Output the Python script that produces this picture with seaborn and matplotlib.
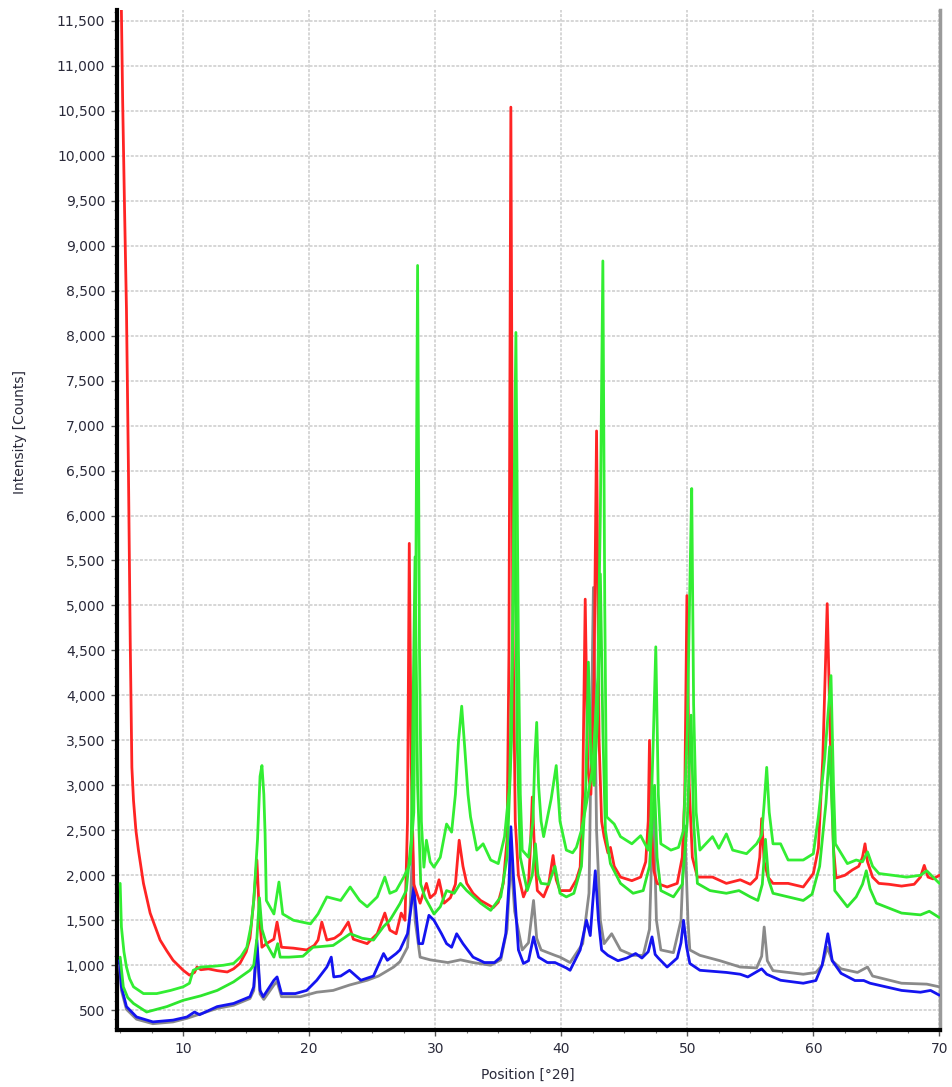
import numpy as np
import pandas as pd
import matplotlib
matplotlib.use("Agg")
import matplotlib.pyplot as plt
import seaborn as sns
from matplotlib.ticker import MultipleLocator, FuncFormatter

# XRD patterns: (2theta [deg], intensity [counts]) sample points per scan
RED = [(5.00, 12500), (5.10, 11600), (5.20, 10600), (5.35, 9400), (5.50, 8300), (5.65, 6600),
       (5.80, 4600), (5.93, 3200), (6.06, 2830), (6.25, 2500), (6.45, 2280), (6.85, 1910),
       (7.38, 1580), (8.17, 1280), (8.7, 1160), (9.2, 1055), (10.0, 944), (10.5, 890),
       (10.9, 920), (11.1, 980), (11.4, 950), (12.0, 960), (12.7, 940), (13.5, 925),
       (14.0, 960), (14.5, 1020), (15.0, 1150), (15.3, 1300), (15.6, 1720), (15.85, 2170),
       (16.05, 1540), (16.25, 1200), (16.6, 1240), (17.2, 1290), (17.45, 1480), (17.8, 1200),
       (18.75, 1190), (19.8, 1170), (20.4, 1220), (20.7, 1280), (21.0, 1480), (21.4, 1280),
       (22.0, 1300), (22.5, 1350), (23.1, 1480), (23.5, 1290), (24.6, 1240), (25.4, 1350),
       (26.0, 1580), (26.4, 1390), (26.9, 1350), (27.3, 1580), (27.6, 1500), (27.8, 2600),
       (27.94, 5690), (28.1, 3200), (28.3, 1900), (28.8, 1690), (29.3, 1910), (29.6, 1750),
       (30.0, 1800), (30.3, 1950), (30.7, 1690), (31.2, 1750), (31.6, 1900), (31.9, 2390),
       (32.2, 2100), (32.5, 1910), (33.0, 1800), (33.6, 1720), (34.6, 1640), (35.0, 1700),
       (35.4, 1910), (35.7, 2400), (35.85, 4500), (36.0, 10540), (36.15, 5000), (36.35, 2600),
       (36.6, 2000), (37.0, 1760), (37.4, 1900), (37.55, 2300), (37.7, 2870), (37.9, 2200),
       (38.1, 1830), (38.6, 1760), (39.0, 1900), (39.35, 2220), (39.6, 1950), (39.9, 1830),
       (40.7, 1830), (41.2, 1950), (41.5, 2090), (41.7, 2900), (41.9, 5070), (42.1, 3200),
       (42.35, 2900), (42.6, 4200), (42.8, 6940), (43.0, 3500), (43.2, 2600), (43.4, 2430),
       (43.7, 2250), (43.9, 2310), (44.2, 2100), (44.7, 1980), (45.6, 1940), (46.3, 1980),
       (46.7, 2150), (46.9, 2600), (47.0, 3500), (47.15, 2500), (47.35, 2050), (47.6, 1910),
       (48.4, 1870), (49.2, 1910), (49.6, 2200), (49.8, 2900), (49.97, 5110), (50.15, 3000),
       (50.4, 2200), (50.8, 1980), (52.0, 1980), (53.1, 1910), (54.2, 1950), (55.0, 1900),
       (55.5, 1970), (55.75, 2200), (55.9, 2630), (56.1, 2150), (56.4, 1980), (56.8, 1910),
       (58.0, 1910), (59.2, 1870), (60.0, 2020), (60.4, 2300), (60.75, 3300), (61.1, 5020),
       (61.35, 3500), (61.6, 2300), (61.8, 1970), (62.5, 2000), (63.1, 2060), (63.6, 2100),
       (63.9, 2200), (64.1, 2350), (64.3, 2150), (64.7, 1980), (65.2, 1910), (66.0, 1900),
       (67.0, 1880), (68.0, 1900), (68.5, 1980), (68.8, 2110), (69.1, 1980), (69.5, 1960),
       (70.0, 2000)]

GREEN_A = [(5.00, 1910), (5.10, 1425), (5.30, 1150), (5.50, 980), (5.75, 850), (6.06, 760),
           (6.85, 685), (7.9, 685), (9.0, 720), (10.0, 760), (10.5, 800), (10.8, 944),
           (11.4, 980), (12.5, 990), (13.2, 1000), (14.0, 1020), (14.6, 1100), (15.05, 1200),
           (15.4, 1450), (15.6, 1720), (15.9, 2400), (16.1, 3100), (16.25, 3220), (16.4, 2900),
           (16.5, 2460), (16.6, 1720), (17.2, 1570), (17.6, 1925), (17.9, 1570), (18.75, 1500),
           (20.1, 1460), (20.7, 1570), (21.4, 1760), (22.5, 1720), (23.25, 1870), (24.0, 1720),
           (24.6, 1650), (25.4, 1760), (26.0, 1980), (26.4, 1800), (26.9, 1830), (27.5, 1980),
           (28.0, 2130), (28.3, 2700), (28.45, 5000), (28.6, 8780), (28.75, 4500), (28.9, 2600),
           (29.1, 2090), (29.3, 2390), (29.6, 2150), (29.9, 2090), (30.4, 2200), (30.9, 2570),
           (31.3, 2480), (31.6, 2900), (31.85, 3500), (32.1, 3880), (32.35, 3400), (32.6, 2900),
           (32.8, 2650), (33.3, 2280), (33.8, 2350), (34.4, 2170), (35.0, 2130), (35.5, 2430),
           (35.9, 3000), (36.15, 4800), (36.4, 8035), (36.6, 4500), (36.75, 2900), (36.9, 2280),
           (37.4, 2200), (37.75, 2600), (37.9, 3300), (38.05, 3700), (38.2, 3000), (38.4, 2600),
           (38.6, 2430), (39.2, 2850), (39.6, 3220), (39.9, 2600), (40.4, 2280), (40.9, 2250),
           (41.2, 2310), (41.6, 2500), (42.0, 2800), (42.5, 3200), (42.9, 4200), (43.1, 6000),
           (43.3, 8830), (43.45, 5000), (43.6, 2650), (44.2, 2570), (44.7, 2430), (45.6, 2350),
           (46.3, 2440), (46.9, 2280), (47.1, 2600), (47.3, 3500), (47.5, 4540), (47.7, 2900),
           (47.9, 2350), (48.7, 2280), (49.3, 2310), (49.7, 2500), (50.0, 3600), (50.2, 5200),
           (50.35, 6300), (50.5, 3900), (50.7, 2700), (51.0, 2280), (52.0, 2430), (52.5, 2300),
           (53.1, 2460), (53.6, 2280), (54.7, 2240), (55.5, 2350), (55.9, 2450), (56.1, 2800),
           (56.3, 3200), (56.5, 2700), (56.8, 2350), (57.4, 2350), (58.0, 2170), (59.2, 2170),
           (60.0, 2240), (60.4, 2650), (60.9, 3300), (61.4, 4220), (61.6, 3000), (61.75, 2350),
           (62.7, 2130), (63.4, 2170), (63.9, 2150), (64.3, 2260), (64.7, 2100), (65.2, 2020),
           (67.4, 1980), (68.5, 2000), (69.0, 2050), (69.5, 1980), (70.0, 1910)]

GREEN_B = [(5.00, 1090), (5.25, 760), (5.6, 640), (6.06, 575), (7.1, 480), (8.7, 540),
           (10.0, 610), (11.4, 660), (12.7, 720), (14.0, 815), (15.3, 944), (15.6, 1000),
           (15.85, 1300), (16.05, 1750), (16.25, 1400), (16.6, 1240), (17.2, 1090), (17.5, 1240),
           (17.7, 1090), (18.4, 1090), (19.5, 1100), (20.3, 1200), (21.9, 1220), (23.25, 1350),
           (24.2, 1300), (25.1, 1280), (25.9, 1430), (26.4, 1500), (27.2, 1685), (27.7, 1830),
           (28.1, 2400), (28.4, 5540), (28.6, 3000), (28.85, 1900), (29.2, 1750), (29.9, 1570),
           (30.4, 1650), (30.9, 1830), (31.5, 1800), (32.0, 1910), (32.5, 1830), (33.6, 1690),
           (34.4, 1610), (35.2, 1760), (35.7, 2200), (36.05, 3500), (36.3, 6575), (36.5, 3500),
           (36.75, 2200), (37.3, 1830), (37.7, 2000), (37.95, 2350), (38.15, 2000), (38.4, 1910),
           (39.0, 1900), (39.5, 2100), (39.9, 1800), (40.4, 1760), (41.0, 1800), (41.6, 2100),
           (41.95, 3000), (42.15, 4370), (42.35, 3300), (42.6, 3000), (42.9, 3800), (43.1, 5350),
           (43.3, 3600), (43.5, 2500), (43.9, 2130), (44.7, 1910), (45.7, 1800), (46.5, 1830),
           (47.0, 2100), (47.4, 3000), (47.6, 2200), (47.9, 1830), (48.9, 1760), (49.6, 1900),
           (50.0, 2600), (50.3, 3780), (50.5, 2600), (50.8, 1910), (51.8, 1830), (53.1, 1800),
           (54.1, 1830), (55.0, 1760), (55.6, 1720), (55.95, 1900), (56.2, 2400), (56.45, 1950),
           (56.8, 1800), (58.0, 1760), (59.2, 1720), (59.9, 1790), (60.5, 2100), (61.0, 2800),
           (61.3, 3430), (61.55, 2500), (61.7, 1830), (62.7, 1650), (63.4, 1760), (63.9, 1900),
           (64.2, 2050), (64.5, 1850), (65.0, 1690), (67.0, 1580), (68.5, 1560), (69.2, 1600),
           (70.0, 1530)]

BLUE = [(4.95, 1055), (5.1, 760), (5.5, 540), (6.3, 425), (7.6, 370), (9.2, 390), (10.3, 425),
        (10.9, 480), (11.3, 450), (12.7, 540), (14.0, 575), (15.3, 650), (15.6, 760),
        (15.85, 1280), (16.1, 720), (16.35, 650), (17.2, 833), (17.45, 870), (17.8, 685),
        (18.9, 685), (19.8, 720), (20.6, 833), (21.4, 980), (21.75, 1090), (21.95, 870),
        (22.5, 880), (23.2, 944), (24.1, 833), (25.1, 880), (25.9, 1130), (26.2, 1055),
        (26.9, 1130), (27.2, 1170), (27.8, 1350), (28.3, 1870), (28.7, 1240), (29.0, 1240),
        (29.5, 1555), (29.9, 1500), (30.5, 1350), (30.9, 1240), (31.3, 1200), (31.7, 1350),
        (32.2, 1240), (33.0, 1090), (33.9, 1030), (34.7, 1030), (35.2, 1090), (35.6, 1350),
        (35.85, 1900), (36.0, 2540), (36.2, 2000), (36.6, 1170), (37.0, 1020), (37.4, 1050),
        (37.8, 1315), (38.2, 1090), (38.9, 1030), (39.5, 1030), (40.4, 970), (40.7, 944),
        (41.5, 1170), (42.0, 1500), (42.3, 1330), (42.5, 1700), (42.7, 2050), (42.95, 1500),
        (43.2, 1170), (43.7, 1110), (44.5, 1050), (45.2, 1080), (45.9, 1130), (46.4, 1080),
        (46.9, 1150), (47.2, 1315), (47.45, 1120), (47.7, 1080), (48.4, 980), (49.2, 1080),
        (49.5, 1250), (49.7, 1500), (49.95, 1200), (50.2, 1020), (51.0, 944), (53.1, 920),
        (54.2, 900), (54.8, 870), (55.9, 960), (56.3, 900), (57.4, 833), (59.2, 800),
        (60.2, 830), (60.7, 1000), (61.15, 1350), (61.5, 1050), (62.2, 910), (63.3, 830),
        (64.0, 830), (64.5, 800), (67.0, 720), (68.5, 700), (69.3, 720), (70.0, 667)]

GRAY = [(4.95, 1000), (5.1, 720), (5.5, 510), (6.3, 400), (7.6, 350), (9.2, 370), (10.3, 410),
        (12.7, 520), (14.0, 555), (15.3, 630), (15.6, 720), (15.85, 1200), (16.1, 680),
        (16.4, 620), (17.2, 780), (17.45, 820), (17.8, 650), (19.3, 650), (20.6, 700),
        (21.9, 720), (23.2, 780), (24.6, 833), (25.5, 880), (26.7, 980), (27.2, 1040),
        (27.8, 1200), (28.0, 1600), (28.2, 2300), (28.4, 1500), (28.8, 1090), (29.6, 1060),
        (31.0, 1030), (32.0, 1060), (33.0, 1030), (34.4, 1000), (35.2, 1060), (35.7, 1400),
        (36.0, 2200), (36.3, 1600), (36.9, 1170), (37.4, 1250), (37.8, 1720), (38.05, 1300),
        (38.4, 1170), (39.5, 1110), (39.9, 1090), (40.7, 1030), (41.7, 1240), (42.2, 1800),
        (42.55, 5200), (42.8, 2500), (43.1, 1500), (43.4, 1240), (44.0, 1350), (44.7, 1170),
        (45.7, 1110), (46.5, 1110), (47.0, 1400), (47.3, 2800), (47.55, 1500), (47.9, 1170),
        (48.9, 1140), (49.5, 1500), (49.8, 2550), (50.05, 1500), (50.2, 1170), (51.0, 1110),
        (52.6, 1050), (54.2, 980), (55.5, 970), (55.9, 1100), (56.1, 1425), (56.35, 1050),
        (56.8, 940), (58.0, 920), (59.2, 900), (60.2, 920), (60.7, 1000), (61.1, 1200),
        (61.5, 1050), (62.2, 960), (63.5, 920), (64.3, 980), (64.7, 880), (67.0, 800),
        (69.0, 790), (70.0, 760)]

SCANS = [("gray", GRAY, "#8a8a8a"),
         ("blue", BLUE, "#1414f0"),
         ("red", RED, "#ff2424"),
         ("green_b", GREEN_B, "#2ee62e"),
         ("green_a", GREEN_A, "#33ee33")]

Y_TICKS = list(range(500, 12000, 500))
X_TICKS = [10, 20, 30, 40, 50, 60, 70]

sns.set_style("white")
plt.rcParams["font.family"] = ["DejaVu Sans"]

fig = plt.figure(figsize=(9.53, 10.87), dpi=100)
ax = fig.add_axes([117 / 953, 1 - 1030 / 1087, (940 - 117) / 953, (1030 - 10) / 1087])

for name, pts, col in SCANS:
    df = pd.DataFrame(pts, columns=["pos", "counts"])
    sns.lineplot(data=df, x="pos", y="counts", ax=ax, color=col, linewidth=2.0,
                 estimator=None, sort=False, legend=False, zorder=3)

ax.set_xlim(4.75, 70.05)
ax.set_ylim(280, 11620)

ax.set_xticks(X_TICKS)
ax.set_yticks(Y_TICKS)
ax.xaxis.set_minor_locator(MultipleLocator(2.5))
ax.yaxis.set_minor_locator(MultipleLocator(100))
ax.yaxis.set_major_formatter(FuncFormatter(lambda v, p: f"{int(v):,}"))

ax.grid(True, which="major", color="#cccccc", linestyle=(0, (2.0, 1.0)), linewidth=1.1, zorder=0)
ax.set_axisbelow(True)

ax.tick_params(axis="both", which="major", direction="out", length=4.5, width=1,
               color="#555555", labelsize=10, labelcolor="#2a2a3a", pad=4)
ax.tick_params(axis="both", which="minor", direction="out", length=2.5, width=0.8,
               color="#777777")
ax.tick_params(axis="x", which="both", bottom=True, top=False)
ax.tick_params(axis="y", which="both", left=True, right=False)

for side in ("left", "bottom"):
    ax.spines[side].set_color("black")
    ax.spines[side].set_linewidth(3)
ax.spines["top"].set_visible(False)
ax.spines["right"].set_color("#9a9a9a")
ax.spines["right"].set_linewidth(2.5)

ax.set_xlabel("")
ax.set_ylabel("")
fig.text(20 / 953, 1 - 432 / 1087, "Intensity [Counts]", rotation=90,
         ha="center", va="center", fontsize=10, color="#2a2a3a")
fig.text(528 / 953, 1 - 1075 / 1087, "Position [°2θ]", ha="center", va="center",
         fontsize=10, color="#2a2a3a")

fig.savefig("out.png", dpi=100)
